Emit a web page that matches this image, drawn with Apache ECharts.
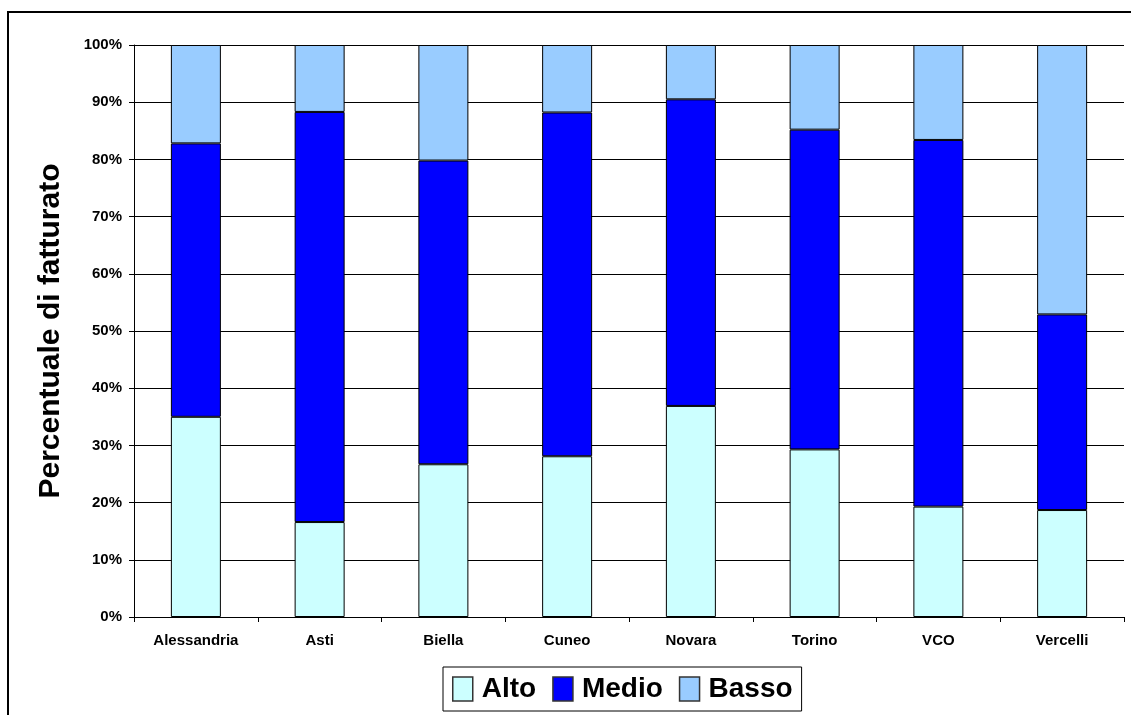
<!DOCTYPE html>
<html>
<head>
<meta charset="utf-8">
<script src="https://cdn.jsdelivr.net/npm/echarts@6/dist/echarts.min.js"></script>
<style>
  html, body { margin: 0; padding: 0; background: #fff; }
  #chart { width: 1131px; height: 715px; }
</style>
</head>
<body>
<div id="chart"></div>
<script>
// Province del Piemonte
const categories = ['Alessandria', 'Asti', 'Biella', 'Cuneo', 'Novara', 'Torino', 'VCO', 'Vercelli'];
// Quote percentuali di fatturato per fascia
const alto  = [35.0, 16.6, 26.7, 28.1, 36.9, 29.3, 19.3, 18.7];
const medio = [47.8, 71.7, 53.1, 60.1, 53.6, 55.9, 64.1, 34.2];
const basso = [17.2, 11.7, 20.2, 11.8,  9.5, 14.8, 16.6, 47.1];
const seriesNames = ['Alto', 'Medio', 'Basso'];
const yTicks = [0, 10, 20, 30, 40, 50, 60, 70, 80, 90, 100];

const FONT = '"Liberation Sans", Arial, sans-serif';
const colors = ['#CCFFFF', '#0000FF', '#99CCFF'];

const chart = echarts.init(document.getElementById('chart'), null, { renderer: 'canvas' });

function barSeries(name, data, color) {
  return {
    name: name,
    type: 'bar',
    stack: 'tot',
    data: data,
    barWidth: 50,
    itemStyle: { color: color, borderColor: '#000', borderWidth: 1 },
    emphasis: { disabled: true }
  };
}

chart.setOption({
  animation: false,
  textStyle: { fontFamily: FONT },
  graphic: [{
    type: 'rect',
    shape: { x: 8, y: 12, width: 1300, height: 900 },
    style: { fill: 'none', stroke: '#000', lineWidth: 2 },
    silent: true
  }],
  grid: { left: 134, right: 7, top: 45, bottom: 98 },
  legend: {
    data: seriesNames,
    left: 443,
    top: 667,
    padding: [8, 9, 8, 9],
    itemGap: 16,
    itemWidth: 20,
    itemHeight: 24,
    icon: 'rect',
    borderColor: '#000',
    borderWidth: 1,
    itemStyle: { borderColor: '#333', borderWidth: 1.5 },
    textStyle: { fontSize: 28, fontWeight: 'bold', color: '#000', fontFamily: FONT, padding: [0, 0, 0, 4] }
  },
  xAxis: {
    type: 'category',
    data: categories,
    boundaryGap: true,
    axisLine: { lineStyle: { color: '#000', width: 1 } },
    axisTick: { show: true, length: 5, alignWithLabel: false, lineStyle: { color: '#000' } },
    axisLabel: { color: '#000', fontSize: 15, fontWeight: 'bold', margin: 16, fontFamily: FONT }
  },
  yAxis: {
    type: 'value',
    min: yTicks[0],
    max: yTicks[yTicks.length - 1],
    interval: 10,
    name: 'Percentuale di fatturato',
    nameLocation: 'middle',
    nameGap: 68,
    nameTextStyle: { fontSize: 30, fontWeight: 'bold', color: '#000', fontFamily: FONT },
    axisLine: { show: true, lineStyle: { color: '#000', width: 1 } },
    axisTick: { show: true, length: 5, inside: false, lineStyle: { color: '#000' } },
    axisLabel: { formatter: '{value}%', color: '#000', fontSize: 15, fontWeight: 'bold', margin: 12, fontFamily: FONT },
    splitLine: { show: true, lineStyle: { color: '#000', width: 1 } }
  },
  series: [
    barSeries(seriesNames[0], alto, colors[0]),
    barSeries(seriesNames[1], medio, colors[1]),
    barSeries(seriesNames[2], basso, colors[2])
  ]
});
</script>
</body>
</html>
